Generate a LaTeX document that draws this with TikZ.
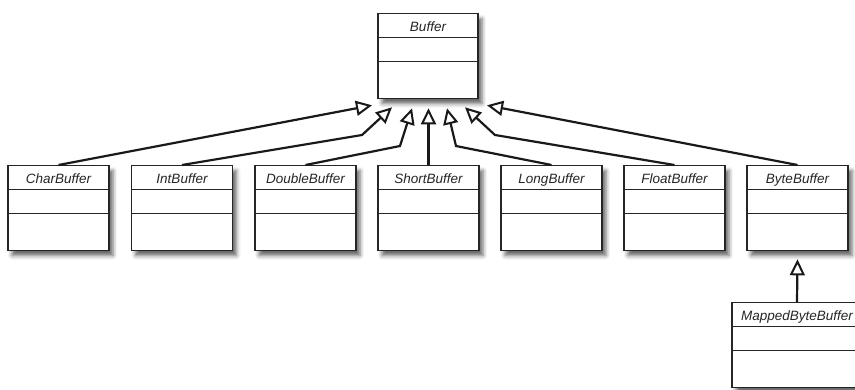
\documentclass[tikz,border=0pt]{standalone}
\usepackage{fontspec}
\setmainfont{Liberation Sans}
\usetikzlibrary{arrows.meta,calc,shadows.blur}
\begin{document}
\begin{tikzpicture}[x=1pt,y=-1pt,
  uml/.style={draw=black!85, line width=1.3pt, fill=white, inner sep=0pt,
    minimum width=101pt, text height=17.5pt, text depth=67.5pt,
    font=\itshape\fontsize{13.5}{13.5}\selectfont, text=black!85,
    blur shadow={shadow xshift=4pt, shadow yshift=-5pt, shadow blur radius=4pt, shadow opacity=60},
    path picture={
      \draw[line width=1.3pt, black!85] ([yshift=-24pt]path picture bounding box.north west) -- ([yshift=-24pt]path picture bounding box.north east);
      \draw[line width=1.3pt, black!85] ([yshift=-48pt]path picture bounding box.north west) -- ([yshift=-48pt]path picture bounding box.north east);
    }},
  gen/.style={line width=2.2pt, black!90, line join=miter,
    -{Triangle[length=16pt, width=15pt, fill=white, line width=2pt]}}
]
\useasboundingbox (0,0) rectangle (855,389);
\clip (0,0) rectangle (855,389);
\node[uml, minimum width=100pt] (buf) at (428,13) [anchor=north] {Buffer};
\node[uml] (char)   at (58.5,165)  [anchor=north] {CharBuffer};
\node[uml] (int)    at (182,165)   [anchor=north] {IntBuffer};
\node[uml] (double) at (305.5,165) [anchor=north] {DoubleBuffer};
\node[uml] (short)  at (428.5,165) [anchor=north] {ShortBuffer};
\node[uml] (long)   at (551.5,165) [anchor=north] {LongBuffer};
\node[uml] (float)  at (674.5,165) [anchor=north] {FloatBuffer};
\node[uml] (byte)   at (797.5,165) [anchor=north] {ByteBuffer};
\node[uml, minimum width=130pt] (mapped) at (797,302) [anchor=north] {MappedByteBuffer};

\draw[gen] (char.north) -- ($(buf.south)+(-56,6)$);
\draw[gen] (int.north) -- (362,135) -- ($(buf.south)+(-36,8)$);
\draw[gen] (double.north) -- (400,146) -- ($(buf.south)+(-16,9)$);
\draw[gen] (short.north) -- ($(buf.south)+(0.5,9)$);
\draw[gen] (long.north) -- (456,146) -- ($(buf.south)+(19,9)$);
\draw[gen] (float.north) -- (495,135) -- ($(buf.south)+(37,8)$);
\draw[gen] (byte.north) -- ($(buf.south)+(59,6)$);
\draw[gen] (mapped.north) -- ($(byte.south)+(0,8)$);
\end{tikzpicture}
\end{document}
